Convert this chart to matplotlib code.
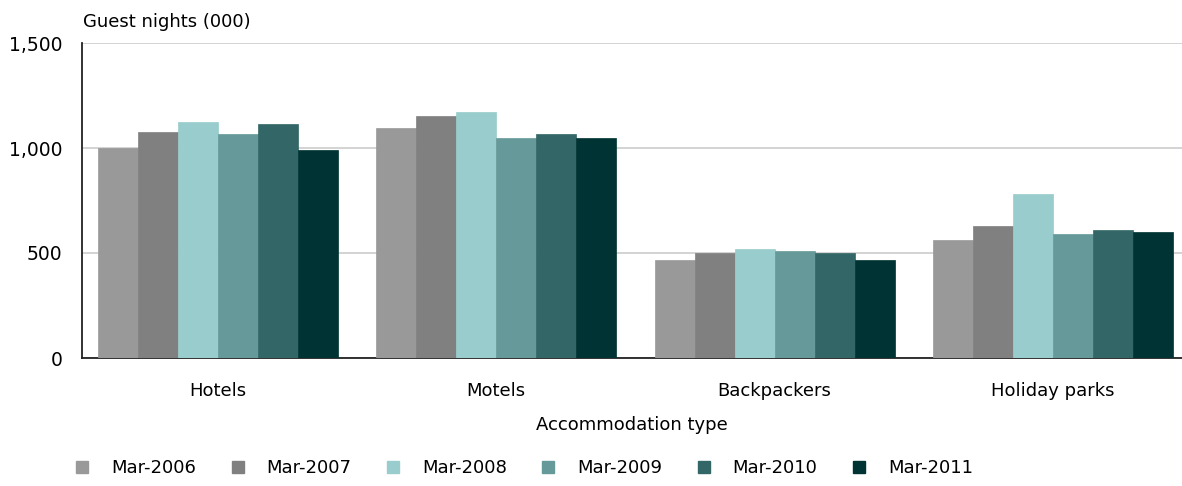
import matplotlib
matplotlib.use("Agg")
import matplotlib.pyplot as plt
from matplotlib.lines import Line2D
import numpy as np

categories = ["Hotels", "Motels", "Backpackers", "Holiday parks"]
series_names = ["Mar-2006", "Mar-2007", "Mar-2008", "Mar-2009", "Mar-2010", "Mar-2011"]
mar2006 = [998, 1094, 465, 560]
mar2007 = [1075, 1152, 502, 627]
mar2008 = [1122, 1170, 520, 779]
mar2009 = [1065, 1046, 511, 589]
mar2010 = [1114, 1067, 502, 608]
mar2011 = [989, 1046, 465, 598]
series = [mar2006, mar2007, mar2008, mar2009, mar2010, mar2011]
colors = ["#999999", "#808080", "#99CCCC", "#669999", "#336666", "#003333"]
yticks = [0, 500, 1000, 1500]
ytick_labels = ["0", "500", "1,000", "1,500"]

plt.rcParams['font.family'] = ['DejaVu Sans']
FS = 13

fig = plt.figure(figsize=(11.82, 4.86), dpi=100)
ax = fig.add_axes([82/1182, 1-358/486, 1-82/1182, (358-43)/486])

x = np.arange(len(categories))
bw = 0.1437
for i, (vals, c) in enumerate(zip(series, colors)):
    ax.bar(x + (i - 2.5) * bw, vals, width=bw, color=c, edgecolor=c, linewidth=0.5,
           label=series_names[i], zorder=3)

ax.set_xlim(-0.4887, 3.464)
ax.set_ylim(0, 1500)
ax.set_yticks(yticks)
ax.set_yticklabels(ytick_labels, fontsize=13.5)
ax.set_xticks(x)
ax.set_xticklabels(categories, fontsize=FS)
ax.tick_params(axis='both', length=0)
ax.tick_params(axis='y', pad=14)
ax.tick_params(axis='x', pad=17.5)
ax.yaxis.grid(True, color="#cccccc", linewidth=1.2, zorder=0)
ax.set_axisbelow(True)
for s in ["top", "right"]:
    ax.spines[s].set_visible(False)
ax.spines["left"].set_color("#222222")
ax.spines["left"].set_linewidth(1.3)
ax.spines["bottom"].set_color("#222222")
ax.spines["bottom"].set_linewidth(1.3)
ax.set_xlabel("Accommodation type", fontsize=FS, labelpad=11)

fig.text(83/1182, 1-22/486, "Guest nights (000)", fontsize=FS, va="center", ha="left")

handles = [Line2D([0], [0], marker="s", linestyle="none", markersize=8,
                  markerfacecolor=c, markeredgecolor=c) for c in colors]
fig.legend(handles, series_names, loc="center", bbox_to_anchor=(523/1182, 1-468/486),
           ncol=6, frameon=False, fontsize=FS, handletextpad=1.1, columnspacing=1.8,
           handlelength=1.0)

fig.savefig("out.png", dpi=100)
